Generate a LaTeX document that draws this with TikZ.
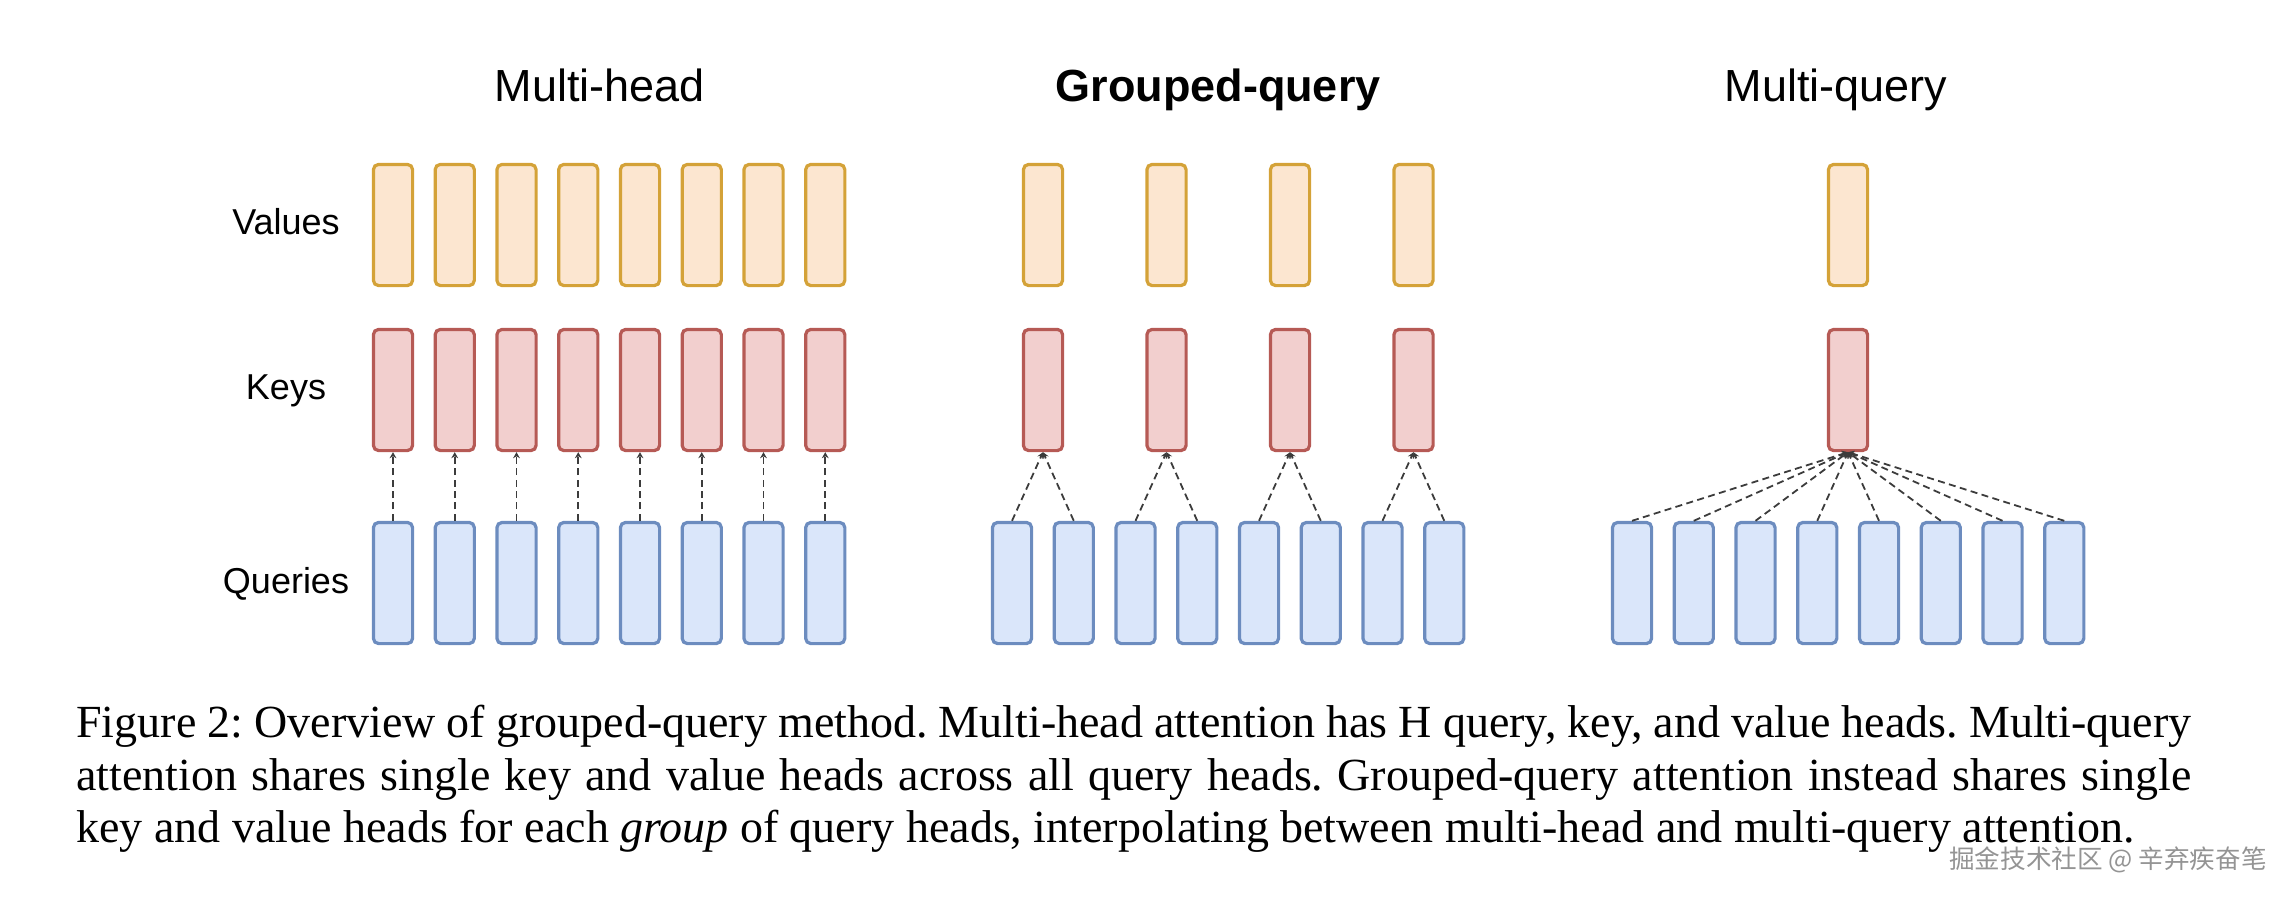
\documentclass[tikz,border=0pt]{standalone}
\usepackage{fontspec}
\setmainfont{Liberation Serif}
\newfontfamily\titlefont{Liberation Sans}
\newfontfamily\cjkfont{Noto Sans CJK SC}
\usetikzlibrary{arrows.meta}
\definecolor{valfill}{HTML}{FCE6D0}
\definecolor{valdraw}{HTML}{D4A238}
\definecolor{keyfill}{HTML}{F2CFCE}
\definecolor{keydraw}{HTML}{B65A55}
\definecolor{qfill}{HTML}{DAE6FA}
\definecolor{qdraw}{HTML}{6C8CBF}
\definecolor{linkcol}{HTML}{3C3C3C}
\frenchspacing
\begin{document}
\begin{tikzpicture}[x=0.5pt,y=-0.5pt,
  head/.style={rectangle, rounded corners=2.6pt, line width=1.6pt, inner sep=0pt,
    minimum width=19.6pt, minimum height=60.6pt},
  vhead/.style={head, fill=valfill, draw=valdraw},
  khead/.style={head, fill=keyfill, draw=keydraw},
  qhead/.style={head, fill=qfill, draw=qdraw},
  link/.style={draw=linkcol, line width=0.9pt, dash pattern=on 3.5pt off 2.2pt,
    -{Stealth[length=3pt,width=3.4pt]}},
  ttl/.style={font=\titlefont\fontsize{22.5pt}{27pt}\selectfont, anchor=base, inner sep=0pt},
  rowlab/.style={font=\titlefont\fontsize{18pt}{21pt}\selectfont, anchor=base, inner sep=0pt},
  capline/.style={font=\fontsize{23pt}{26pt}\selectfont, anchor=base west, inner sep=0pt}]
\useasboundingbox (0,0) rectangle (2290,896);
% titles
\node[ttl] (t1) at (600,101) {Multi-head};
\node[ttl] (t2) at (1218,101) {\bfseries Grouped-query};
\node[ttl] (t3) at (1836,101) {Multi-query};
% row labels
\node[rowlab] (lv) at (286,234) {Values};
\node[rowlab] (lk) at (286,399) {Keys};
\node[rowlab] (lq) at (286,593) {Queries};
% multi-head
\foreach \i in {0,...,7}{
  \node[vhead] (mhv\i) at (393+61.75*\i,225) {};
  \node[khead] (mhk\i) at (393+61.75*\i,390) {};
  \node[qhead] (mhq\i) at (393+61.75*\i,583) {};
  \draw[link] (mhq\i.north) -- (mhk\i.south);
}
% grouped-query
\foreach \k in {0,...,3}{
  \node[vhead] (gqv\k) at (1043+123.5*\k,225) {};
  \node[khead] (gqk\k) at (1043+123.5*\k,390) {};
}
\foreach \j in {0,...,7}{
  \pgfmathtruncatemacro{\g}{int(\j/2)}
  \node[qhead] (gqq\j) at (1012+61.75*\j,583) {};
  \draw[link] (gqq\j.north) -- (gqk\g.south);
}
% multi-query
\node[vhead] (mqv) at (1848,225) {};
\node[khead] (mqk) at (1848,390) {};
\foreach \j in {0,...,7}{
  \node[qhead] (mqq\j) at (1632+61.75*\j,583) {};
  \draw[link] (mqq\j.north) -- (mqk.south);
}
% caption
\node[capline] (c1) at (76,737) {\makebox[1057.5pt][s]{Figure 2: Overview of grouped-query method. Multi-head attention has H query, key, and value heads. Multi-query}};
\node[capline] (c2) at (76,790) {\makebox[1057.5pt][s]{attention shares single key and value heads across all query heads. Grouped-query attention instead shares single}};
\node[capline] (c3) at (76,842) {key and value heads for each \emph{group} of query heads, interpolating between multi-head and multi-query attention.};
% watermark
\node[inner sep=0pt, text=black!42, font=\cjkfont\fontsize{12.8pt}{14pt}\selectfont] (wm) at (2108,860) {掘金技术社区 @ 辛弃疾奋笔};
\end{tikzpicture}
\end{document}
